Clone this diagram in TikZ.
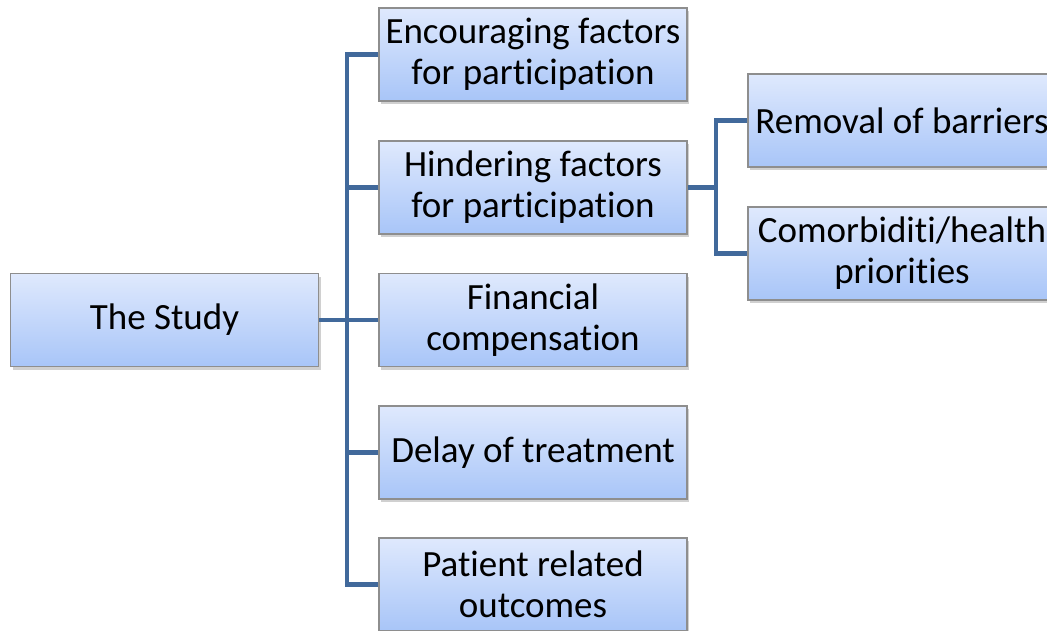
\documentclass[tikz,border=0pt]{standalone}
\usepackage{fontspec}
\setmainfont[Ligatures={NoCommon,NoContextual,NoRequired}]{Carlito}
\usetikzlibrary{shadows}
\definecolor{boxtop}{HTML}{DFE9FD}
\definecolor{boxbot}{HTML}{A8C5F8}
\definecolor{boxline}{HTML}{8E8E8E}
\definecolor{linkc}{HTML}{41699B}
\newcommand{\tibreak}{t\kern0pt i}
\begin{document}
\begin{tikzpicture}[x=1pt,y=-1pt,
  box/.style={rectangle, draw=boxline, line width=1.2pt, top color=boxtop, bottom color=boxbot,
    minimum width=308pt, minimum height=93pt, inner sep=0pt, align=center,
    font=\fontsize{37}{41}\selectfont,
    drop shadow={opacity=0.3, shadow xshift=2pt, shadow yshift=-3pt, fill=black!60}},
  link/.style={draw=linkc, line width=4.8pt, line join=miter}]
\clip (0,0) rectangle (1047,630);
\fill[white] (0,0) rectangle (1047,630);
% nodes
\node[box] (study) at (164.5,320) {The Study};
\node[box] (enc) at (533,54.5) {Encouraging factors\\for par\tibreak cipa\tibreak on};
\node[box] (hin) at (533,187.5) {Hindering factors\\for par\tibreak cipa\tibreak on};
\node[box] (fin) at (533,320) {Financial\\compensa\tibreak on};
\node[box] (del) at (533,452.5) {Delay of treatment};
\node[box] (pat) at (533,584.5) {Pa\tibreak ent related\\outcomes};
\node[box] (rem) at (902,120.5) {Removal of barriers};
\node[box] (com) at (902,253.5) {Comorbidi\tibreak/health\\priori\tibreak es};
% connectors
\coordinate (trunk) at (347,0);
\coordinate (branch) at (716,0);
\draw[link] (study.east) -- (fin.west);
\draw[link] (enc.west) -| (trunk |- fin.west);
\draw[link] (pat.west) -| (trunk |- fin.west);
\draw[link] (hin.west) -- (trunk |- hin.west);
\draw[link] (del.west) -- (trunk |- del.west);
\draw[link] (hin.east) -- (branch |- hin.east);
\draw[link] (rem.west) -| (branch |- hin.east);
\draw[link] (com.west) -| (branch |- hin.east);
\end{tikzpicture}
\end{document}
